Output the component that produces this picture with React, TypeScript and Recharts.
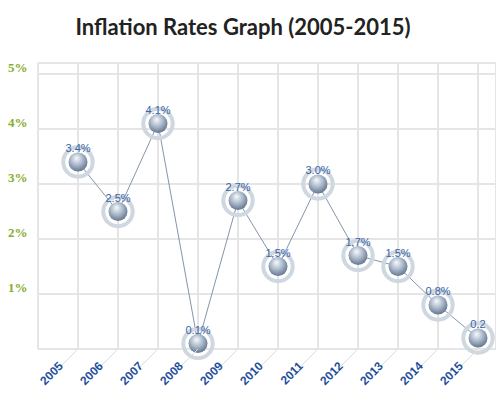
import { LineChart, Line, XAxis, YAxis, CartesianGrid, LabelList } from 'recharts'

const years = [2005, 2006, 2007, 2008, 2009, 2010, 2011, 2012, 2013, 2014, 2015]
const rates = [3.4, 2.5, 4.1, 0.1, 2.7, 1.5, 3.0, 1.7, 1.5, 0.8, 0.2]
const rateLabels = ['3.4%', '2.5%', '4.1%', '0.1%', '2.7%', '1.5%', '3.0%', '1.7%', '1.5%', '0.8%', '0.2']
const yTicks = [0, 1, 2, 3, 4, 5]
const xTicks = [2004, ...years]

const data = years.map((year, i) => ({ year, rate: rates[i], label: rateLabels[i] }))

function Ball(props: any) {
  const { cx, cy, index } = props
  if (cx == null || cy == null) return null
  return (
    <g key={`ball-${index}`}>
      <circle cx={cx} cy={cy} r={14.7} fill="none" stroke="#cfd7e0" strokeWidth={4} />
      <circle cx={cx} cy={cy} r={9.5} fill="url(#ballGrad)" />
    </g>
  )
}

function XTick(props: any) {
  const { x, y, payload } = props
  if (payload.value === 2004) return null
  const tx = x - 17
  const ty = y + 15
  return (
    <g>
      <line x1={x} y1={y} x2={x - 18} y2={y + 18} stroke="#dcdcdc" strokeWidth={1} />
      <text x={tx} y={ty} transform={`rotate(-45 ${tx} ${ty})`} textAnchor="end" dominantBaseline="central"
        fill="#1f4f9c" fontFamily="Arial, 'Liberation Sans', sans-serif" fontWeight="bold" fontSize={12}>
        {payload.value}
      </text>
    </g>
  )
}

function YTick(props: any) {
  const { y, payload } = props
  if (payload.value === 0) return null
  return (
    <text x={8} y={y - 2} fill="#86ad2e" fontFamily="'Liberation Serif', serif"
      fontWeight="bold" fontSize={13}>
      {`${payload.value}%`}
    </text>
  )
}

function PointLabel(props: any) {
  const { x, y, value } = props
  return (
    <text x={x} y={y - 10} textAnchor="middle" fill="#3a66a3"
      fontFamily="Arial, 'Liberation Sans', sans-serif" fontSize={11}>
      {value}
    </text>
  )
}

export default function App() {
  return (
    <div style={{ position: 'absolute', left: 0, top: 0, width: 496, height: 398, background: '#fff' }}>
      <div style={{
        position: 'absolute', left: 0, top: 13, width: 486, textAlign: 'center',
        fontFamily: 'Lato, sans-serif', fontWeight: 700, fontSize: 22, color: '#222',
      }}>
        Inflation Rates Graph (2005-2015)
      </div>
      <LineChart width={496} height={398} data={data} margin={{ top: 63, right: 0, left: 0, bottom: 0 }}>
        <defs>
          <radialGradient id="ballGrad" cx="0.45" cy="0.4" r="0.62" fx="0.42" fy="0.28">
            <stop offset="0" stopColor="#f8fafc" />
            <stop offset="0.5" stopColor="#aebccd" />
            <stop offset="1" stopColor="#62738e" />
          </radialGradient>
        </defs>
        <CartesianGrid stroke="#e5e5e5" strokeWidth={2} />
        <XAxis dataKey="year" type="number" domain={[2004, 2015.45]} ticks={xTicks} interval={0}
          axisLine={false} tickLine={false} tickSize={0} tickMargin={0} height={49} tick={<XTick />} />
        <YAxis type="number" domain={[0, 5.2]} ticks={yTicks} width={38} axisLine={false} tickLine={false}
          tick={<YTick />} />
        <Line dataKey="rate" stroke="#8494ab" strokeWidth={1} dot={<Ball />} activeDot={false}
          isAnimationActive={false}>
          <LabelList dataKey="label" content={<PointLabel />} />
        </Line>
      </LineChart>
    </div>
  )
}
